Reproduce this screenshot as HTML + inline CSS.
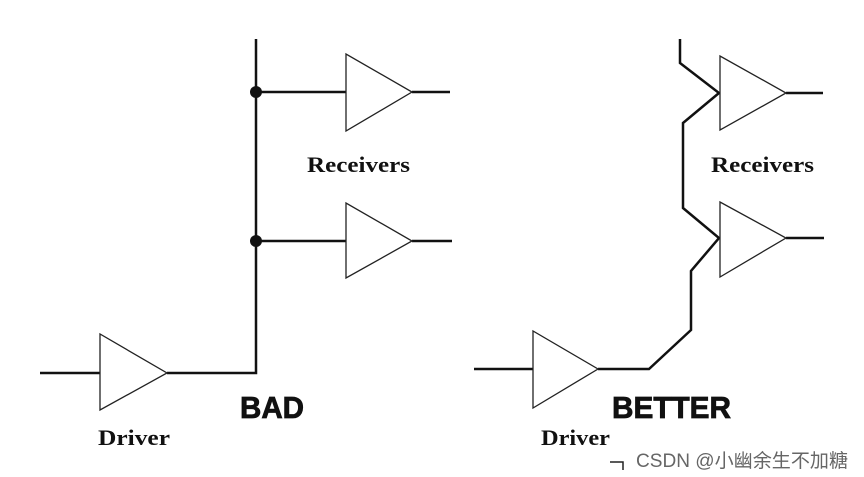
<!DOCTYPE html>
<html><head><meta charset="utf-8"><style>
html,body{margin:0;padding:0;background:#fff;width:864px;height:477px;overflow:hidden}
</style></head><body>
<svg width="864" height="477" viewBox="0 0 864 477" xmlns="http://www.w3.org/2000/svg">
<g fill="none" stroke="#111" stroke-width="2.5" stroke-linejoin="miter">
<path d="M256 39 V373 H167"/>
<path d="M40 373 H100"/>
<path d="M256 92 H346 M412 92 H450"/>
<path d="M256 241 H346 M412 241 H452"/>
<path d="M680 39 V63 L719 93 L683 123 V208 L719 238 L691 271 V330 L649 369 H598"/>
<path d="M474 369 H533"/>
<path d="M786 93 H823 M786 238 H824"/>
</g>
<g fill="#fff" stroke="#222" stroke-width="1.3">
<polygon points="100,334 100,410 167,373"/>
<polygon points="346,54 346,131 412,92"/>
<polygon points="346,203 346,278 412,241"/>
<polygon points="533,331 533,408 598,369"/>
<polygon points="720,56 720,130 786,93"/>
<polygon points="720,202 720,277 786,238"/>
</g>
<circle cx="256" cy="92" r="6" fill="#111"/>
<circle cx="256" cy="241" r="6" fill="#111"/>
<path d="M610 462 H623 V470" fill="none" stroke="#222" stroke-width="1.5"/>
<g font-family="'Liberation Serif',serif" font-weight="bold" fill="#111" font-size="22">
<text x="307" y="172" textLength="103" lengthAdjust="spacingAndGlyphs">Receivers</text>
<text x="711" y="172" textLength="103" lengthAdjust="spacingAndGlyphs">Receivers</text>
<text x="98" y="445" textLength="72" lengthAdjust="spacingAndGlyphs">Driver</text>
<text x="541" y="445" textLength="69" lengthAdjust="spacingAndGlyphs">Driver</text>
</g>
<g font-family="'Liberation Sans',sans-serif" font-weight="bold" fill="#111" font-size="31" stroke="#111" stroke-width="0.8">
<text x="240" y="418" textLength="64" lengthAdjust="spacingAndGlyphs">BAD</text>
<text x="612" y="418" textLength="119" lengthAdjust="spacingAndGlyphs">BETTER</text>
</g>
<text x="636" y="467" font-family="'Liberation Sans','Noto Sans CJK SC',sans-serif" font-size="19" fill="#666" textLength="212" lengthAdjust="spacingAndGlyphs">CSDN @小幽余生不加糖</text>
</svg>
</body></html>
